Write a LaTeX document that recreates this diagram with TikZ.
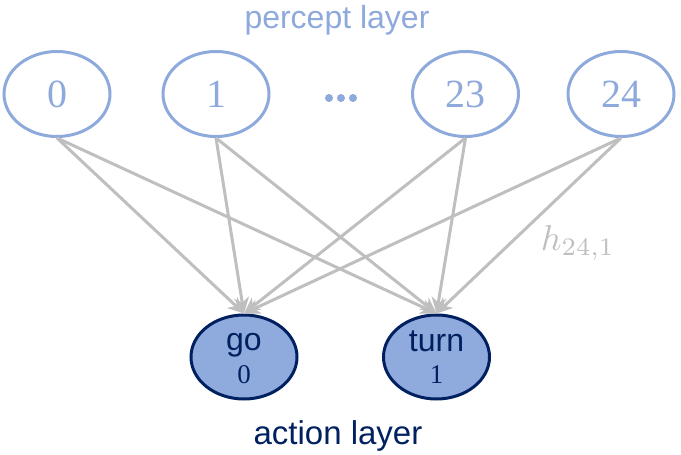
\documentclass[tikz,border=0pt]{standalone}
\usepackage{fontspec}
\usepackage{graphicx}
\setmainfont{Liberation Sans}
\newfontfamily\numfont{Liberation Serif}
\usetikzlibrary{arrows.meta,shapes.geometric}
\definecolor{lblue}{HTML}{8EA9DB}
\definecolor{afill}{HTML}{8FAADC}
\definecolor{navy}{HTML}{002060}
\definecolor{agray}{HTML}{BFBFBF}
\tikzset{
  percept/.style={draw=lblue, line width=3pt, ellipse, minimum width=106pt, minimum height=85pt, inner sep=0pt, text=lblue, font=\numfont\fontsize{40}{42}\selectfont},
  action/.style={draw=navy, fill=afill, line width=3pt, ellipse, minimum width=106pt, minimum height=84pt, inner sep=0pt},
  nametext/.style={text=navy, font=\fontsize{32}{34}\selectfont, anchor=base, inner sep=0pt},
  idtext/.style={text=navy, font=\numfont\fontsize{27}{29}\selectfont, anchor=base, inner sep=0pt},
  conn/.style={draw=agray, line width=3pt, -{Stealth[length=16pt,width=15pt,inset=5pt]}}
}
\begin{document}
\begin{tikzpicture}[x=1pt,y=-1pt]
\useasboundingbox (0,0) rectangle (681,455);
\node[text=lblue, font=\fontsize{32}{34}\selectfont, anchor=base, inner sep=0pt] (ptitle) at (337,28) {percept layer};
\node[percept] (p0) at (57,94) {0};
\node[percept] (p1) at (216,94) {1};
\node[percept] (p23) at (465.5,94) {23};
\node[percept] (p24) at (621,94) {24};
\foreach \i/\x in {1/329,2/341,3/353}{
  \fill[lblue] (\x,98) circle (4pt) coordinate (dot\i);
}
\node[action] (go) at (244,357) {};
\node[action] (turn) at (436.5,357) {};
\node[nametext] (gotxt) at (244,350) {go};
\node[idtext] (goid) at (244,383) {0};
\node[nametext] (turntxt) at (436.5,351) {turn};
\node[idtext] (turnid) at (436.5,383) {1};
\node[text=navy, font=\fontsize{33}{35}\selectfont, anchor=base, inner sep=0pt] (atitle) at (338,444) {action layer};
\foreach \p in {p0,p1,p23,p24}{
  \draw[conn] (\p.south) -- (go.north);
  \draw[conn] (\p.south) -- (turn.north);
}
\node[text=agray, inner sep=0pt] (hlab) at (578,243) {\scalebox{3.6}{$h_{24,1}$}};
\end{tikzpicture}
\end{document}
